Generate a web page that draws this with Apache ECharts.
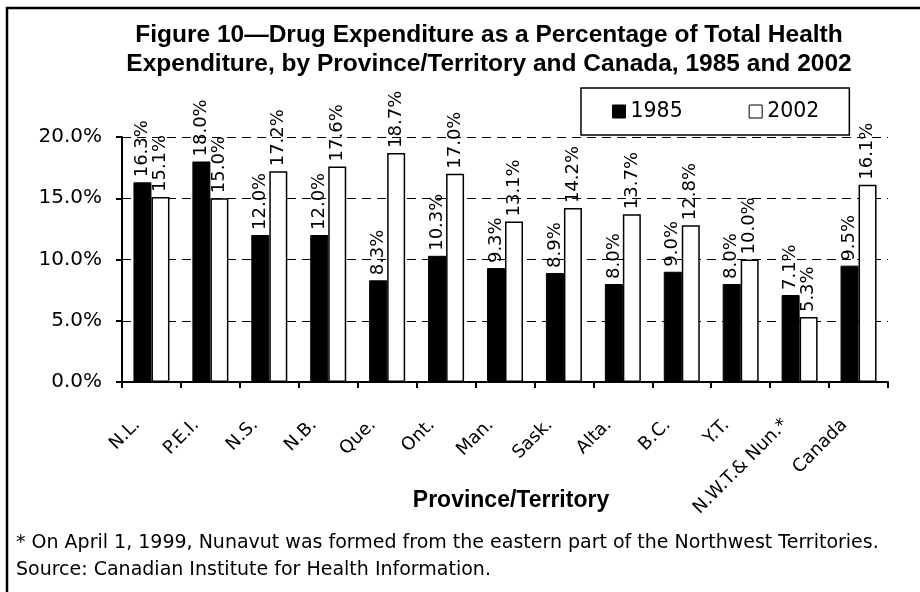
<!DOCTYPE html>
<html>
<head>
<meta charset="utf-8">
<script src="https://cdn.jsdelivr.net/npm/echarts@6/dist/echarts.min.js"></script>
<style>
  html, body { margin: 0; padding: 0; background: #fff; }
  #main { width: 920px; height: 592px; }
</style>
</head>
<body>
<div id="main"></div>
<script>
  // categories and values (percent)
  var provinces = ['N.L.', 'P.E.I.', 'N.S.', 'N.B.', 'Que.', 'Ont.', 'Man.', 'Sask.', 'Alta.', 'B.C.', 'Y.T.', 'N.W.T.& Nun.*', 'Canada'];
  var y1985 = [16.3, 18.0, 12.0, 12.0, 8.3, 10.3, 9.3, 8.9, 8.0, 9.0, 8.0, 7.1, 9.5];
  var y2002 = [15.1, 15.0, 17.2, 17.6, 18.7, 17.0, 13.1, 14.2, 13.7, 12.8, 10.0, 5.3, 16.1];
  var yTicks = [0, 5, 10, 15, 20];

  var sans = '"Liberation Sans", Arial, sans-serif';
  var wide = '"DejaVu Sans", sans-serif';

  var myChart = echarts.init(document.getElementById('main'));

  var barLabel = {
    show: true,
    position: 'top',
    rotate: 90,
    align: 'left',
    verticalAlign: 'middle',
    distance: 5,
    color: '#000',
    fontFamily: wide,
    fontSize: 18,
    formatter: function (p) { return p.value.toFixed(1) + '%'; }
  };

  var option = {
    animation: false,
    backgroundColor: '#fff',
    title: {
      text: 'Figure 10\u2014Drug Expenditure as a Percentage of Total Health\nExpenditure, by Province/Territory and Canada, 1985 and 2002',
      left: 484,
      top: 16,
      textAlign: 'center',
      textStyle: {
        fontFamily: sans,
        fontWeight: 'bold',
        fontSize: 24.5,
        lineHeight: 29,
        color: '#000'
      }
    },
    legend: {
      left: 581,
      top: 88,
      padding: [13, 30, 13, 31],
      itemGap: 66,
      itemWidth: 13,
      itemHeight: 13,
      icon: 'rect',
      backgroundColor: '#fff',
      borderColor: '#000',
      borderWidth: 1.5,
      borderRadius: 0,
      textStyle: { fontFamily: wide, fontSize: 20.5, color: '#000' },
      data: [
        { name: '1985', itemStyle: { color: '#000', borderColor: '#000', borderWidth: 1 } },
        { name: '2002', itemStyle: { color: '#fff', borderColor: '#000', borderWidth: 1 } }
      ]
    },
    grid: { left: 122, right: 32, top: 137, bottom: 210, containLabel: false },
    xAxis: {
      type: 'category',
      data: yTicks.length ? provinces : [],
      axisLine: { lineStyle: { color: '#000', width: 2 } },
      axisTick: { show: true, length: 6, lineStyle: { color: '#000', width: 2 } },
      axisLabel: {
        rotate: 45,
        interval: 0,
        margin: 26,
        padding: [0, 20, 0, 0],
        color: '#000',
        fontFamily: wide,
        fontSize: 18
      }
    },
    yAxis: {
      type: 'value',
      min: yTicks[0],
      max: yTicks[yTicks.length - 1],
      interval: 5,
      axisLine: { show: true, lineStyle: { color: '#000', width: 2 } },
      axisTick: { show: true, length: 6, lineStyle: { color: '#000', width: 2 } },
      splitLine: { lineStyle: { color: '#000', width: 1, type: [9, 6] } },
      axisLabel: {
        margin: 20,
        color: '#000',
        fontFamily: wide,
        fontSize: 20,
        formatter: function (v) { return v.toFixed(1) + '%'; }
      }
    },
    series: [
      {
        name: '1985',
        type: 'bar',
        data: y1985,
        barWidth: 18,
        barGap: 0,
        itemStyle: { color: '#000', borderColor: '#000', borderWidth: 1 },
        label: barLabel,
        z: 3
      },
      {
        name: '2002',
        type: 'bar',
        data: y2002,
        barWidth: 18,
        barGap: 0,
        itemStyle: { color: '#fff', borderColor: '#000', borderWidth: 1.5 },
        label: barLabel,
        z: 3
      }
    ],
    graphic: [
      {
        type: 'rect',
        silent: true,
        z: -1,
        shape: { x: 7, y: 8, width: 940, height: 620 },
        style: { fill: null, stroke: '#000', lineWidth: 2.5 }
      },
      {
        type: 'text',
        x: 511, y: 501,
        style: {
          text: 'Province/Territory',
          fontFamily: sans, fontWeight: 'bold', fontSize: 23,
          fill: '#000', align: 'center', verticalAlign: 'middle'
        }
      },
      {
        type: 'text',
        x: 16, y: 543,
        style: {
          text: '* On April 1, 1999, Nunavut was formed from the eastern part of the Northwest Territories.',
          fontFamily: wide, fontSize: 19, fill: '#000', align: 'left', verticalAlign: 'middle'
        }
      },
      {
        type: 'text',
        x: 16, y: 570,
        style: {
          text: 'Source: Canadian Institute for Health Information.',
          fontFamily: wide, fontSize: 19, fill: '#000', align: 'left', verticalAlign: 'middle'
        }
      }
    ]
  };

  myChart.setOption(option);
</script>
</body>
</html>
